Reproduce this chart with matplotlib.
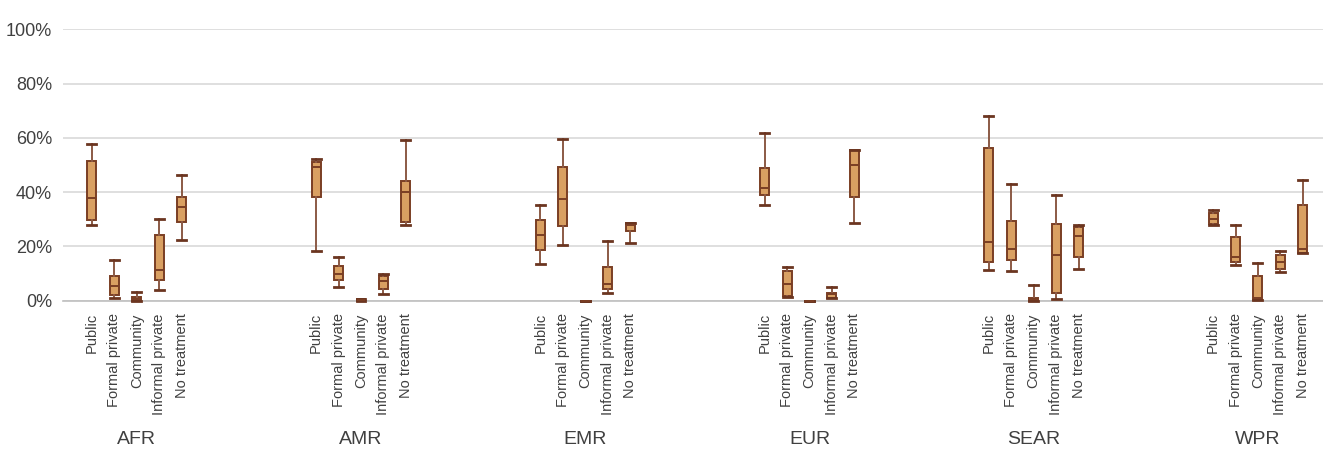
import matplotlib.pyplot as plt
from matplotlib.transforms import blended_transform_factory

regions = ["AFR", "AMR", "EMR", "EUR", "SEAR", "WPR"]
sectors = ["Public", "Formal private", "Community", "Informal private", "No treatment"]

# per region, per sector: [whisker low, q1, median, q3, whisker high] in %
afr = [[27.9, 29.7, 38.0, 51.4, 57.8],
       [1.0, 2.0, 5.4, 9.1, 15.0],
       [0.0, 0.0, 0.5, 1.3, 3.2],
       [4.1, 7.5, 11.3, 24.1, 30.0],
       [22.5, 28.9, 34.4, 38.3, 46.4]]
amr = [[18.3, 38.1, 49.4, 51.0, 52.3],
       [5.0, 7.5, 9.7, 12.9, 16.2],
       [0.0, 0.0, 0.3, 0.7, 0.8],
       [2.6, 4.2, 7.1, 9.2, 10.0],
       [28.0, 29.0, 39.9, 44.2, 59.3]]
emr = [[13.6, 18.8, 24.1, 29.6, 35.3],
       [20.5, 27.4, 37.4, 49.4, 59.6],
       [0.0, 0.0, 0.0, 0.0, 0.0],
       [2.9, 4.4, 6.0, 12.3, 22.1],
       [21.4, 25.7, 28.0, 28.5, 28.7]]
eur = [[35.4, 38.9, 41.6, 48.8, 61.9],
       [1.4, 1.6, 6.0, 11.1, 12.5],
       [0.0, 0.0, 0.0, 0.0, 0.0],
       [1.0, 1.1, 2.4, 2.9, 5.2],
       [28.7, 38.3, 50.0, 55.5, 55.6]]
sear = [[11.4, 14.3, 21.5, 56.1, 68.2],
        [11.1, 15.0, 19.2, 29.2, 43.1],
        [0.0, 0.0, 0.6, 1.1, 5.9],
        [0.7, 2.9, 16.8, 28.1, 38.9],
        [11.7, 16.1, 24.0, 27.3, 27.9]]
wpr = [[27.9, 28.3, 30.1, 32.2, 33.5],
       [13.2, 14.1, 16.2, 23.6, 27.9],
       [0.3, 0.3, 1.0, 9.2, 13.9],
       [10.6, 11.8, 14.4, 17.0, 18.3],
       [17.5, 17.7, 19.0, 35.2, 44.5]]
all_data = [afr, amr, emr, eur, sear, wpr]

plt.rcParams['font.family'] = ['Liberation Sans', 'DejaVu Sans']

fig = plt.figure(figsize=(13.23, 4.51), dpi=100)
ax = fig.add_axes([63 / 1323, 150.3 / 451, 1 - 63 / 1323, (300.7 - 29.3) / 451])

fill = "#D9A062"
edge = "#7A3E24"

stats, pos, labels = [], [], []
for g, reg in enumerate(all_data):
    for j, v in enumerate(reg):
        lo, q1, med, q3, hi = [x / 100 for x in v]
        stats.append(dict(whislo=lo, q1=q1, med=med, q3=q3, whishi=hi, fliers=[]))
        pos.append(g * 10 + j)
        labels.append(sectors[j])

bp = ax.bxp(stats, positions=pos, widths=0.4, patch_artist=True, showfliers=False,
            boxprops=dict(facecolor=fill, edgecolor=edge, linewidth=1.4),
            medianprops=dict(color=edge, linewidth=1.4),
            whiskerprops=dict(color="#8B5A45", linewidth=1.4),
            capprops=dict(color="#6B3520", linewidth=2),
            capwidths=0.4)
for key in ["boxes", "medians", "whiskers", "caps"]:
    for a in bp[key]:
        a.set_clip_on(False)
        a.set_zorder(4)

ax.set_xlim(-1.29, 54.9)
ax.set_ylim(0, 1)
ax.set_yticks([0, 0.2, 0.4, 0.6, 0.8, 1.0])
ax.set_yticklabels(["0%", "20%", "40%", "60%", "80%", "100%"])
ax.yaxis.grid(True, color="#D9D9D9", linewidth=1.2)
ax.set_axisbelow(True)
for s in ["left", "right", "top"]:
    ax.spines[s].set_visible(False)
ax.spines["bottom"].set_color("#BFBFBF")
ax.spines["bottom"].set_linewidth(1.2)
ax.tick_params(axis="y", length=0, pad=8, labelsize=13, labelcolor="#404040")
ax.set_xticks(pos)
ax.set_xticklabels(labels, rotation=90, fontsize=10.5, color="#404040")
ax.tick_params(axis="x", length=0, pad=9)

trans = blended_transform_factory(ax.transData, fig.transFigure)
for g, reg in enumerate(regions):
    ax.text(g * 10 + 2, 12 / 451, reg, transform=trans, ha="center", va="center",
            fontsize=14, color="#404040")

fig.savefig("out.png", dpi=100)
